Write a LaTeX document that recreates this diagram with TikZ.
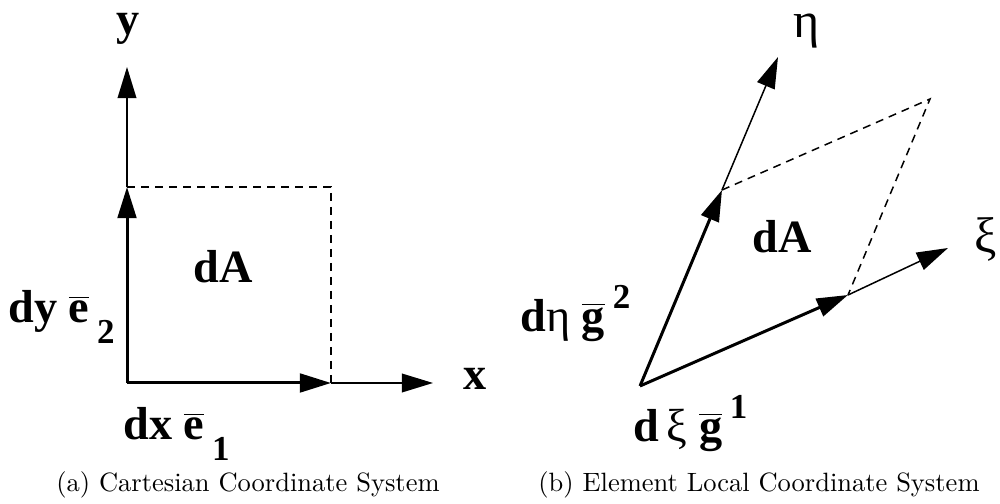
\documentclass[tikz,border=0pt]{standalone}
\usepackage{fontspec}
\usetikzlibrary{arrows.meta}
\newfontfamily\labelfont{Liberation Serif}
\newcommand{\barvec}[1]{$\overline{\mbox{#1}}$}
\newcommand{\lowidx}[1]{\,\raisebox{-0.45em}{\fontsize{14}{14}\selectfont #1}}
\newcommand{\highidx}[1]{\,\raisebox{0.5em}{\fontsize{14}{14}\selectfont #1}}

\tikzset{
  axis/.style={line width=0.6pt, -{Triangle[length=12.5pt,width=7.5pt]}},
  basevec/.style={line width=1.2pt, -{Triangle[length=12.5pt,width=7.5pt]}},
  area/.style={line width=0.6pt, dash pattern=on 3.2pt off 2.4pt},
  lbl/.style={anchor=base, inner sep=0pt, font=\labelfont\bfseries\fontsize{18.5}{20}\selectfont},
  greek/.style={anchor=base, inner sep=0pt, font=\labelfont\fontsize{20}{22}\selectfont},
  caption/.style={anchor=base, inner sep=0pt, font=\fontsize{10.6}{12}\selectfont}
}

\begin{document}
\begin{tikzpicture}[x=0.4pt, y=-0.4pt]
  \useasboundingbox (0,0) rectangle (1000,504);

  % (a) cartesian
  \coordinate (O1) at (127,383);
  \coordinate (e1) at (331,383);
  \coordinate (e2) at (127,187);
  \coordinate (c1) at (331,187);
  \coordinate (xtip) at (433,383);
  \coordinate (ytip) at (127,67);
  \draw[axis] (e1) -- (xtip);
  \draw[axis] (e2) -- (ytip);
  \draw[area] (e2) -- (c1) -- (e1);
  \draw[basevec] (O1) -- (e1);
  \draw[basevec] (O1) -- (e2);
  \node[lbl] (ylab) at (128,35) {y};
  \node[lbl] (xlab) at (475,390) {x};
  \node[lbl] (dA1) at (223,283) {dA};
  \node[lbl, anchor=base west] (dy) at (8,323) {dy \barvec{e}\lowidx{2}};
  \node[lbl, anchor=base west] (dx) at (123,440) {dx \barvec{e}\lowidx{1}};
  \node[caption] (capa) at (248,492) {(a) Cartesian Coordinate System};

  % (b) element local
  \coordinate (O2) at (640,386);
  \coordinate (g1) at (848,295);
  \coordinate (g2) at (722,190);
  \coordinate (c2) at (930,99);
  \coordinate (xitip) at (948,248);
  \coordinate (etatip) at (778,57);
  \draw[axis] (g1) -- (xitip);
  \draw[axis] (g2) -- (etatip);
  \draw[area] (g2) -- (c2) -- (g1);
  \draw[basevec] (O2) -- (g1);
  \draw[basevec] (O2) -- (g2);
  \node[greek] (etalab) at (807,38) {η};
  \node[greek] (xilab) at (986,253) {ξ};
  \node[lbl] (dA2) at (782,253) {dA};
  \node[lbl, anchor=base west] (deta) at (520,332) {d{\mdseries η} \barvec{g}\highidx{2}};
  \node[lbl, anchor=base west] (dxi) at (633,442) {d\,{\mdseries ξ} \barvec{g}\highidx{1}};
  \node[caption] (capb) at (759,492) {(b) Element Local Coordinate System};
\end{tikzpicture}
\end{document}
